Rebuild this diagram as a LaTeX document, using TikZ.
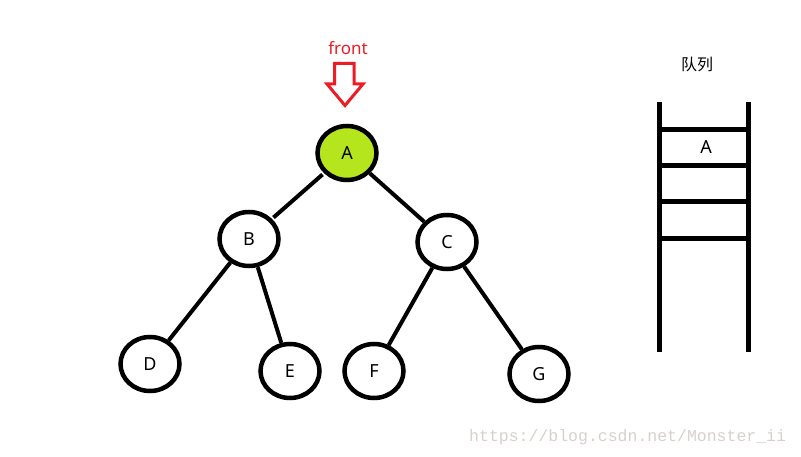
\documentclass[tikz,border=0pt]{standalone}
\usepackage{fontspec}
\setmainfont{Noto Sans}
\newfontfamily\cjkfont{Noto Sans CJK SC}
\newfontfamily\wmfont{Liberation Mono}
\usetikzlibrary{shapes.geometric}
\definecolor{frontred}{HTML}{ED1C24}
\definecolor{limefill}{HTML}{B5E61D}
\definecolor{wmgray}{HTML}{D6D2CB}
\begin{document}
\begin{tikzpicture}[x=1pt,y=-1pt,
  treenode/.style={ellipse,draw=black,line width=4.5pt,fill=white,minimum width=59pt,minimum height=54pt,inner sep=0pt,font=\fontsize{18}{21}\selectfont},
  treeedge/.style={line width=4pt},
  queueline/.style={line width=5pt},
  arrowout/.style={draw=frontred,line width=3pt,line join=miter}]
\useasboundingbox (0,0) rectangle (801,457);
\fill[white] (0,0) rectangle (801,457);
% tree nodes
\node[treenode,fill=limefill] (A) at (347,153) {A};
\node[treenode] (B) at (249,239) {B};
\node[treenode] (C) at (447,242) {C};
\node[treenode] (D) at (150,364) {D};
\node[treenode] (E) at (290,371) {E};
\node[treenode] (F) at (374,371) {F};
\node[treenode] (G) at (539,374) {G};
% edges
\draw[treeedge,shorten >=2pt,shorten <=2pt] (A) -- (B);
\draw[treeedge] (A) -- (C);
\draw[treeedge] (B) -- (D);
\draw[treeedge] (B) -- (E);
\draw[treeedge] (C) -- (F);
\draw[treeedge] (C) -- (G);
% front label and hollow arrow
\node[text=frontred,font=\fontsize{17}{20}\selectfont] (front) at (348,48) {front};
\draw[arrowout] (334.5,63.5) -- (354,63.5) -- (354,84) -- (363,84) -- (345,105.5) -- (327,84) -- (334.5,84) -- cycle;
% queue
\node[font=\cjkfont\fontsize{16}{19}\selectfont] (qtitle) at (697,64) {队列};
\draw[queueline] (659,102) -- (659,352);
\draw[queueline] (748,102) -- (748,352);
\draw[queueline] (659,130) -- (748,130);
\draw[queueline] (659,166) -- (748,166);
\draw[queueline] (659,202) -- (748,202);
\draw[queueline] (659,239) -- (748,239);
\node[font=\fontsize{18}{21}\selectfont] (qA) at (706,147) {A};
% watermark
\node[anchor=west,inner sep=0pt,text=wmgray,font=\wmfont\fontsize{16.5}{19}\selectfont] (wm) at (469,437) {https://blog.csdn.net/Monster\_ii};
\end{tikzpicture}
\end{document}
